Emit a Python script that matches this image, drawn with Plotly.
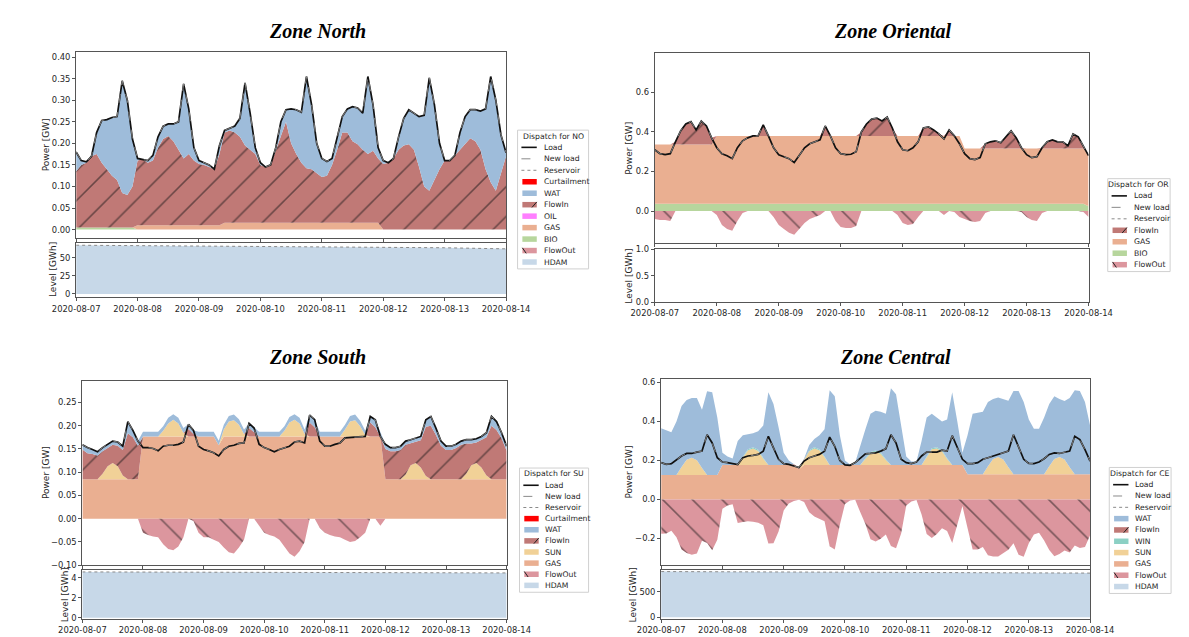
import pandas as pd
import plotly.graph_objects as go

W, H = 1189, 637
T = pd.date_range("2020-08-07", periods=85, freq="2h")   # 2-hourly grid
TD = pd.date_range("2020-08-07", periods=8, freq="D")    # daily grid for storage level

# ---------------- Zone North (NO) ----------------
NO_LOAD = [0.180,0.160,0.157,0.170,0.225,0.253,0.255,0.260,0.262,0.345,0.300,0.210,
           0.165,0.163,0.160,0.172,0.215,0.240,0.245,0.245,0.250,0.338,0.280,0.190,
           0.160,0.155,0.150,0.140,0.195,0.230,0.235,0.240,0.258,0.340,0.270,0.190,
           0.155,0.145,0.150,0.190,0.250,0.278,0.280,0.278,0.272,0.355,0.290,0.200,
           0.165,0.158,0.165,0.215,0.262,0.280,0.285,0.282,0.270,0.355,0.290,0.190,
           0.160,0.155,0.165,0.215,0.258,0.278,0.270,0.262,0.265,0.352,0.290,0.200,
           0.160,0.160,0.172,0.225,0.262,0.278,0.278,0.275,0.280,0.355,0.300,0.220,
           0.178]
NO_BIO = [0.005]*12 + [0.0]*73
NO_GAS = [0.0]*12 + [0.010]*17 + [0.016]*31 + [0.0]*25
NO_OIL = [0.0]*85
NO_FLOWIN = [0.130,0.145,0.150,0.165,0.170,0.150,0.135,0.120,0.110,0.080,0.075,0.095,
             0.150,0.153,0.145,0.150,0.180,0.200,0.207,0.195,0.175,0.155,0.165,0.150,
             0.142,0.140,0.135,0.130,0.165,0.209,0.214,0.209,0.199,0.179,0.169,0.159,
             0.134,0.129,0.134,0.169,0.204,0.234,0.184,0.159,0.139,0.126,0.124,0.114,
             0.106,0.109,0.134,0.169,0.209,0.209,0.189,0.182,0.169,0.159,0.167,0.149,
             0.152,0.155,0.165,0.185,0.195,0.198,0.185,0.145,0.100,0.090,0.114,0.140,
             0.160,0.160,0.172,0.185,0.200,0.212,0.205,0.185,0.140,0.110,0.090,0.130,
             0.170]
NO_WAT = [0.045,0.010,0.002,0.000,0.050,0.098,0.115,0.135,0.147,0.260,0.220,0.110,
          0.005,0.000,0.005,0.012,0.025,0.030,0.028,0.040,0.065,0.173,0.105,0.030,
          0.008,0.005,0.005,0.000,0.020,0.005,0.005,0.015,0.043,0.145,0.085,0.015,
          0.005,0.000,0.000,0.005,0.030,0.028,0.080,0.103,0.117,0.213,0.150,0.070,
          0.043,0.033,0.015,0.030,0.037,0.055,0.080,0.084,0.085,0.180,0.107,0.025,
          0.008,0.000,0.000,0.030,0.063,0.080,0.085,0.117,0.165,0.262,0.176,0.060,
          0.000,0.000,0.000,0.040,0.062,0.066,0.073,0.090,0.140,0.245,0.210,0.090,
          0.008]
NO_CURT = [0.0]*85
NO_LEVEL = [67.0, 66.5, 66.0, 66.0, 65.5, 65.0, 63.5, 62.0]

# ---------------- Zone Oriental (OR) ----------------
OR_LOAD = [0.310,0.290,0.285,0.290,0.350,0.405,0.440,0.452,0.410,0.455,0.430,0.370,
           0.320,0.290,0.280,0.265,0.320,0.355,0.370,0.380,0.380,0.435,0.380,0.320,
           0.285,0.275,0.265,0.245,0.280,0.320,0.340,0.350,0.360,0.430,0.380,0.320,
           0.290,0.285,0.287,0.300,0.400,0.440,0.465,0.470,0.455,0.475,0.420,0.350,
           0.310,0.305,0.320,0.350,0.420,0.425,0.410,0.390,0.365,0.410,0.380,0.340,
           0.290,0.265,0.260,0.270,0.340,0.350,0.355,0.345,0.375,0.405,0.370,0.320,
           0.285,0.270,0.275,0.320,0.350,0.360,0.350,0.350,0.330,0.390,0.375,0.330,
           0.280]
OR_BIO = [0.037]*84 + [0.025]
OR_GAS = [0.299]*12 + [0.343]*48 + [0.279]*24 + [0.260]
OR_FLOWIN = [0,0,0,0,0.014,0.069,0.104,0.116,0.074,0.119,0.094,0.034,
             0,0,0,0,0,0,0,0,0,0.055,0,0,
             0,0,0,0,0,0,0,0,0,0.050,0,0,
             0,0,0,0,0.020,0.060,0.085,0.090,0.075,0.095,0.040,0,
             0,0,0,0,0.040,0.045,0.030,0.010,0,0.030,0,0,
             0,0,0,0,0.024,0.034,0.039,0.029,0.059,0.089,0.054,0.004,
             0,0,0,0.004,0.034,0.044,0.034,0.034,0.014,0.074,0.059,0.014,
             0]
OR_FLOWOUT = [-0.040,-0.045,-0.045,-0.050,0,0,0,0,0,0,0,0,
              -0.020,-0.070,-0.090,-0.100,-0.050,-0.010,0,0,0,0,0,-0.030,
              -0.070,-0.090,-0.110,-0.120,-0.090,-0.060,-0.040,-0.030,-0.020,0,0,-0.050,
              -0.080,-0.085,-0.085,-0.075,0,0,0,0,0,0,0,-0.020,
              -0.060,-0.070,-0.065,-0.030,0,0,0,0,-0.020,0,-0.005,-0.030,
              -0.040,-0.050,-0.055,-0.050,-0.010,0,0,0,0,0,0,-0.005,
              -0.030,-0.045,-0.050,-0.010,0,0,0,0,0,0,0,-0.005,
              -0.030]
OR_LEVEL = [None]*8   # no storage in this zone: empty level panel

# ---------------- Zone South (SU) ----------------
SU_LOAD = [0.159,0.153,0.149,0.144,0.153,0.160,0.167,0.165,0.156,0.209,0.190,0.167,
           0.153,0.153,0.151,0.146,0.156,0.158,0.158,0.160,0.165,0.203,0.190,0.156,
           0.149,0.146,0.142,0.135,0.149,0.156,0.158,0.162,0.163,0.205,0.195,0.160,
           0.153,0.149,0.144,0.149,0.153,0.156,0.165,0.167,0.163,0.223,0.213,0.167,
           0.156,0.156,0.160,0.163,0.174,0.175,0.176,0.177,0.177,0.220,0.213,0.177,
           0.160,0.153,0.153,0.156,0.167,0.170,0.174,0.177,0.213,0.220,0.195,0.167,
           0.156,0.156,0.160,0.167,0.170,0.170,0.172,0.177,0.185,0.220,0.209,0.185,
           0.156]
SU_GAS = ([0.085]*12 + [0.177]*12 + [0.177,0.177,0.177,0.158] + [0.177]*8
          + [0.177]*24 + [0.085]*25)
SU_SUN = [0,0,0,0,0.012,0.028,0.035,0.028,0.008,0,0,0,
          0,0,0,0,0.012,0.028,0.036,0.028,0.008,0,0,0,
          0,0,0,0,0.015,0.032,0.035,0.025,0.005,0,0,0,
          0,0,0,0,0.012,0.030,0.036,0.028,0.005,0,0,0,
          0,0,0,0,0.015,0.032,0.035,0.022,0.003,0,0,0,
          0,0,0,0,0.010,0.030,0.035,0.025,0.007,0,0,0,
          0,0,0,0,0.012,0.030,0.035,0.025,0.008,0,0,0,
          0]
SU_FLOWIN = [0.064,0.056,0.054,0.051,0.048,0.039,0.039,0.044,0.055,0.099,0.090,0.072,
             0,0,0,0,0,0,0,0,0,0.016,0.005,0,
             0,0,0,0,0,0,0,0,0,0.018,0.008,0,
             0,0,0,0,0,0,0,0,0,0.030,0.020,0,
             0,0,0,0,0,0,0,0,0,0.030,0.020,0,
             0.065,0.060,0.060,0.063,0.064,0.047,0.046,0.059,0.106,0.115,0.095,0.072,
             0.063,0.063,0.067,0.074,0.065,0.047,0.044,0.059,0.082,0.115,0.106,0.088,
             0.061]
SU_WAT = [0.010,0.012,0.010,0.008,0.008,0.008,0.008,0.008,0.008,0.025,0.015,0.010,
          0.010,0.010,0.010,0.010,0.010,0.012,0.012,0.012,0.010,0.010,0.008,0.010,
          0.010,0.010,0.010,0.010,0.010,0.012,0.012,0.012,0.010,0.010,0.010,0.010,
          0.010,0.010,0.010,0.010,0.010,0.012,0.012,0.012,0.010,0.016,0.016,0.010,
          0.010,0.010,0.010,0.010,0.010,0.012,0.012,0.012,0.010,0.013,0.016,0.010,
          0.010,0.008,0.008,0.008,0.008,0.008,0.008,0.008,0.015,0.020,0.015,0.010,
          0.008,0.008,0.008,0.008,0.008,0.008,0.008,0.008,0.010,0.020,0.018,0.012,
          0.010]
SU_CURT = [0.0]*85
SU_FLOWOUT = [0]*12 + [
    -0.030,-0.035,-0.038,-0.040,-0.055,-0.065,-0.068,-0.060,-0.040,0,-0.005,-0.030,
    -0.040,-0.040,-0.045,-0.050,-0.062,-0.072,-0.075,-0.062,-0.045,0,0,-0.015,
    -0.030,-0.035,-0.038,-0.045,-0.060,-0.075,-0.082,-0.070,-0.050,0,0,-0.020,
    -0.030,-0.035,-0.038,-0.040,-0.045,-0.050,-0.048,-0.040,-0.030,0,0,-0.015] + [0]*25
SU_LEVEL = [4.57, 4.56, 4.55, 4.54, 4.53, 4.51, 4.49, 4.47]

# ---------------- Zone Central (CE) ----------------
CE_LOAD = [0.189,0.180,0.184,0.206,0.223,0.236,0.236,0.243,0.248,0.332,0.290,0.214,
           0.192,0.189,0.185,0.179,0.214,0.223,0.226,0.231,0.248,0.324,0.265,0.206,
           0.184,0.180,0.172,0.164,0.197,0.214,0.223,0.231,0.248,0.320,0.273,0.200,
           0.177,0.175,0.189,0.214,0.234,0.236,0.239,0.248,0.260,0.332,0.290,0.206,
           0.189,0.184,0.192,0.223,0.243,0.243,0.243,0.253,0.248,0.327,0.265,0.206,
           0.184,0.184,0.189,0.206,0.214,0.223,0.231,0.239,0.248,0.332,0.273,0.206,
           0.185,0.184,0.192,0.209,0.231,0.239,0.236,0.243,0.248,0.324,0.307,0.256,
           0.197]
CE_GAS = ([0.126]*12 + [0.177]*12 + [0.177,0.177,0.177,0.155] + [0.177]*8
          + [0.177]*24 + [0.130]*25)
CE_SUN = [0,0,0,0,0.040,0.078,0.088,0.075,0.035,0,0,0,
          0,0,0,0,0.038,0.075,0.085,0.072,0.032,0,0,0,
          0,0,0,0,0.025,0.070,0.085,0.075,0.040,0,0,0,
          0,0,0,0,0.030,0.060,0.068,0.058,0.025,0,0,0,
          0,0,0,0,0.040,0.080,0.085,0.070,0.030,0,0,0,
          0,0,0,0,0.040,0.078,0.088,0.075,0.035,0,0,0,
          0,0,0,0,0.040,0.078,0.088,0.075,0.035,0,0,0,
          0]
CE_WIN = ([0]*12 + [0,0,0,0,0.004,0.006,0.006,0.006,0.004,0,0,0]*4 + [0]*25)
CE_FLOWIN = [0]*24 + [0,0,0.004,0.008] + [0]*57
CE_WAT = [0.239,0.229,0.219,0.274,0.314,0.306,0.306,0.319,0.299,0.429,0.424,0.294,
          0.063,0.043,0.033,0.123,0.111,0.077,0.072,0.095,0.167,0.373,0.313,0.193,
          0.063,0.023,0.000,0.000,0.004,0.027,0.042,0.072,0.139,0.383,0.353,0.153,
          0.023,0.003,0.013,0.103,0.149,0.197,0.204,0.209,0.234,0.393,0.363,0.203,
          0.043,0.018,0.018,0.123,0.199,0.177,0.152,0.147,0.199,0.373,0.223,0.063,
          0.200,0.310,0.315,0.320,0.330,0.307,0.305,0.310,0.341,0.426,0.426,0.370,
          0.280,0.233,0.233,0.290,0.320,0.322,0.297,0.300,0.355,0.430,0.426,0.370,
          0.250]
CE_FLOWOUT = [-0.176,-0.175,-0.161,-0.194,-0.257,-0.274,-0.284,-0.277,-0.212,-0.223,-0.260,-0.206,
              -0.048,-0.031,-0.025,-0.121,-0.116,-0.112,-0.114,-0.119,-0.132,-0.226,-0.225,-0.164,
              -0.056,-0.020,-0.008,-0.002,-0.013,-0.066,-0.087,-0.099,-0.112,-0.240,-0.257,-0.130,
              -0.023,-0.005,-0.001,-0.066,-0.126,-0.204,-0.216,-0.202,-0.180,-0.238,-0.250,-0.174,
              -0.031,-0.011,-0.003,-0.077,-0.177,-0.197,-0.177,-0.147,-0.162,-0.223,-0.135,-0.034,
              -0.146,-0.256,-0.256,-0.244,-0.286,-0.292,-0.292,-0.276,-0.258,-0.224,-0.283,-0.294,
              -0.225,-0.179,-0.171,-0.211,-0.259,-0.291,-0.279,-0.262,-0.272,-0.236,-0.249,-0.244,
              -0.183]
CE_LEVEL = [890, 887, 884, 881, 877, 873, 868, 860]

for _name, _arr in list(globals().items()):
    if _name.isupper() and isinstance(_arr, list) and _name.split("_")[-1] != "LEVEL":
        assert len(_arr) == 85, (_name, len(_arr))

# ---------------- styles ----------------
C = dict(WAT="#9ebcda", FlowIn="#c07976", FlowOut="#dc969e", GAS="#eaaf91",
         BIO="#b7d69d", SUN="#f1d197", WIN="#8cd0c4", HDAM="#c7d8e8",
         OIL="#ff7fff", Curtailment="#ff0000")
FONT = "DejaVu Sans"
TXT = "#262626"
FRAME = "#555555"

fig = go.Figure()


def area(y, name, xa, ya, group=None, pattern=None, x=T):
    col = C[name]
    kw = dict(x=x, y=y, name=name, mode="lines", line=dict(width=0, color=col),
              fillcolor=col, xaxis=xa, yaxis=ya, showlegend=False, hoverinfo="skip")
    if group:
        kw["stackgroup"] = group
    else:
        kw["fill"] = "tozeroy"
    if pattern:
        kw["fillpattern"] = dict(shape=pattern, fgcolor="#141414",
                                 bgcolor=col, size=21, solidity=0.075)
    fig.add_trace(go.Scatter(**kw))


def loads(y, xa, ya):
    fig.add_trace(go.Scatter(x=T, y=y, mode="lines", line=dict(color="#111", width=1.7),
                             xaxis=xa, yaxis=ya, showlegend=False, name="Load"))
    fig.add_trace(go.Scatter(x=T, y=y, mode="lines",
                             line=dict(color="#8a8a8a", width=0.9, dash="dash"),
                             xaxis=xa, yaxis=ya, showlegend=False, name="New load"))


def level(y, xa, ya):
    area(y, "HDAM", xa, ya, x=TD)
    fig.add_trace(go.Scatter(x=TD, y=y, mode="lines",
                             line=dict(color="#8a8a8a", width=1, dash="dot"),
                             xaxis=xa, yaxis=ya, showlegend=False, name="Reservoir"))


# NO
area(NO_BIO, "BIO", "x", "y", "no")
area(NO_GAS, "GAS", "x", "y", "no")
area(NO_OIL, "OIL", "x", "y", "no")
area(NO_FLOWIN, "FlowIn", "x", "y", "no", "/")
area(NO_WAT, "WAT", "x", "y", "no")
area(NO_CURT, "Curtailment", "x", "y", "no")
loads(NO_LOAD, "x", "y")
level(NO_LEVEL, "x2", "y2")

# OR
area(OR_BIO, "BIO", "x3", "y3", "or")
area(OR_GAS, "GAS", "x3", "y3", "or")
area(OR_FLOWIN, "FlowIn", "x3", "y3", "or", "/")
area(OR_FLOWOUT, "FlowOut", "x3", "y3", None, "\\")
loads(OR_LOAD, "x3", "y3")
fig.add_trace(go.Scatter(x=TD, y=OR_LEVEL, mode="lines", line=dict(width=0),
                         xaxis="x4", yaxis="y4", showlegend=False, name="Reservoir"))

# SU
area(SU_GAS, "GAS", "x5", "y5", "su")
area(SU_SUN, "SUN", "x5", "y5", "su")
area(SU_FLOWIN, "FlowIn", "x5", "y5", "su", "/")
area(SU_WAT, "WAT", "x5", "y5", "su")
area(SU_CURT, "Curtailment", "x5", "y5", "su")
area(SU_FLOWOUT, "FlowOut", "x5", "y5", None, "\\")
loads(SU_LOAD, "x5", "y5")
level(SU_LEVEL, "x6", "y6")

# CE
area(CE_GAS, "GAS", "x7", "y7", "ce")
area(CE_SUN, "SUN", "x7", "y7", "ce")
area(CE_WIN, "WIN", "x7", "y7", "ce")
area(CE_FLOWIN, "FlowIn", "x7", "y7", "ce", "/")
area(CE_WAT, "WAT", "x7", "y7", "ce")
area(CE_FLOWOUT, "FlowOut", "x7", "y7", None, "\\")
loads(CE_LOAD, "x7", "y7")
level(CE_LEVEL, "x8", "y8")

# ---------------- axes ----------------
def fx(p):
    return p / W


def fy(p):
    return 1 - p / H


TICKF = dict(family=FONT, size=8.4, color=TXT)


def xax(x0, x1, anchor, labels):
    return dict(domain=[fx(x0), fx(x1)], anchor=anchor, type="date",
                range=["2020-08-07", "2020-08-14"], showline=True, linecolor=FRAME,
                linewidth=1, mirror=True, ticks="outside", ticklen=3, tickcolor=FRAME,
                tick0="2020-08-07", dtick=86400000, tickformat="%Y-%m-%d",
                showticklabels=labels, showgrid=False, zeroline=False, tickfont=TICKF)


def yax(top, bot, anchor, rng, vals, fmt):
    return dict(domain=[fy(bot), fy(top)], anchor=anchor, range=rng, showline=True,
                linecolor=FRAME, linewidth=1, mirror=True, ticks="outside", ticklen=3,
                tickcolor=FRAME, tickvals=vals, tickformat=fmt, showgrid=False,
                zeroline=False, tickfont=TICKF)


layout = dict(
    width=W, height=H, margin=dict(l=0, r=0, t=0, b=0),
    plot_bgcolor="white", paper_bgcolor="white", showlegend=False,
    xaxis=xax(46, 494, "y", False),
    yaxis=yax(40, 229, "x", [-0.0205, 0.411], [0, .05, .1, .15, .2, .25, .3, .35, .4], ".2f"),
    xaxis2=xax(46, 494, "y2", True),
    yaxis2=yax(234, 289, "x2", [-4.8, 69.6], [0, 25, 50], "d"),
    xaxis3=xax(649, 1101, "y3", False),
    yaxis3=yax(41, 234, "x3", [-0.163, 0.797], [0, .2, .4, .6], ".1f"),
    xaxis4=xax(649, 1101, "y4", True),
    yaxis4=yax(240, 294, "x4", [0, 1], [0, .5, 1], ".1f"),
    xaxis5=xax(52.5, 494.6, "y5", False),
    yaxis5=yax(374, 561, "x5", [-0.1, 0.296], [-.1, -.05, 0, .05, .1, .15, .2, .25], ".2f"),
    xaxis6=xax(52.5, 494.6, "y6", True),
    yaxis6=yax(566, 616, "x6", [-0.15, 4.75], [0, 2, 4], "d"),
    xaxis7=xax(655.6, 1102.6, "y7", False),
    yaxis7=yax(372, 561, "x7", [-0.337, 0.617], [-.2, 0, .2, .4, .6], ".1f"),
    xaxis8=xax(655.6, 1102.6, "y8", True),
    yaxis8=yax(566, 616, "x8", [-41, 918], [0, 500], "d"),
)

ann = []
shapes = []


def text(x, y, s, size=8, angle=0, anchor="center", family=FONT, color=TXT):
    ann.append(dict(x=fx(x), y=fy(y), xref="paper", yref="paper", text=s, showarrow=False,
                    xanchor=anchor, yanchor="middle", textangle=angle,
                    font=dict(family=family, size=size, color=color)))


# titles
TF = "Liberation Serif"
text(297, 18, "<b><i>Zone North</i></b>", 20, family=TF, color="#000")
text(897, 18, "<b><i>Zone Oriental</i></b>", 20, family=TF, color="#000")
text(297, 349, "<b><i>Zone South</i></b>", 20, family=TF, color="#000")
text(900, 349, "<b><i>Zone Central</i></b>", 20, family=TF, color="#000")

# axis titles
text(14, 134, "Power [GW]", 9, -90)
text(22, 261, "Level [GWh]", 9, -90)
text(622, 137, "Power [GW]", 9, -90)
text(622, 267, "Level [GWh]", 9, -90)
text(14, 467, "Power [GW]", 9, -90)
text(34, 591, "Level [GWh]", 9, -90)
text(622, 466, "Power [GW]", 9, -90)
text(626, 591, "Level [GWh]", 9, -90)


def legend(L, R, top, title, entries, dy):
    bot = top + 17.5 + dy * (len(entries) - 1) + 7
    shapes.append(dict(type="rect", xref="paper", yref="paper", x0=fx(L), x1=fx(R),
                       y0=fy(bot), y1=fy(top), line=dict(color="#d0d0d0", width=1),
                       fillcolor="rgba(255,255,255,0.85)", layer="above"))
    text((L + R) / 2, top + 6, title, 7.7)
    for i, (name, kind) in enumerate(entries):
        y = top + 17.5 + dy * i
        if kind in ("solid", "dash", "dot"):
            col = "#111" if kind == "solid" else "#8a8a8a"
            w = 1.6 if kind == "solid" else 1
            shapes.append(dict(type="line", xref="paper", yref="paper", x0=fx(L + 4),
                               x1=fx(L + 20), y0=fy(y), y1=fy(y), layer="above",
                               line=dict(color=col, width=w, dash=kind)))
        else:
            shapes.append(dict(type="rect", xref="paper", yref="paper", x0=fx(L + 5),
                               x1=fx(L + 20), y0=fy(y + 2.8), y1=fy(y - 2.8),
                               fillcolor=C[name], line=dict(width=0), layer="above"))
            if kind == "/":
                shapes.append(dict(type="line", xref="paper", yref="paper", x0=fx(L + 15),
                                   x1=fx(L + 20), y0=fy(y + 2.8), y1=fy(y - 2.8),
                                   line=dict(color="#222", width=1), layer="above"))
            elif kind == "\\":
                shapes.append(dict(type="line", xref="paper", yref="paper", x0=fx(L + 5),
                                   x1=fx(L + 9), y0=fy(y - 2.8), y1=fy(y + 2.8),
                                   line=dict(color="#222", width=1), layer="above"))
        text(L + 25, y, name, 7.7, anchor="left")


legend(506, 580, 119, "Dispatch for NO",
       [("Load", "solid"), ("New load", "dash"), ("Reservoir", "dot"),
        ("Curtailment", "p"), ("WAT", "p"), ("FlowIn", "/"), ("OIL", "p"),
        ("GAS", "p"), ("BIO", "p"), ("FlowOut", "\\"), ("HDAM", "p")], 11.65)
legend(1121, 1186, 168.3, "Dispatch for OR",
       [("Load", "solid"), ("New load", "dash"), ("Reservoir", "dot"),
        ("FlowIn", "/"), ("GAS", "p"), ("BIO", "p"), ("FlowOut", "\\")], 11.65)
legend(508, 580, 462.3, "Dispatch for SU",
       [("Load", "solid"), ("New load", "dash"), ("Reservoir", "dot"),
        ("Curtailment", "p"), ("WAT", "p"), ("FlowIn", "/"), ("SUN", "p"),
        ("GAS", "p"), ("FlowOut", "\\"), ("HDAM", "p")], 11.3)
legend(1122.6, 1187, 461.7, "Dispatch for CE",
       [("Load", "solid"), ("New load", "dash"), ("Reservoir", "dot"),
        ("WAT", "p"), ("FlowIn", "/"), ("WIN", "p"), ("SUN", "p"),
        ("GAS", "p"), ("FlowOut", "\\"), ("HDAM", "p")], 11.5)

layout["annotations"] = ann
layout["shapes"] = shapes
fig.update_layout(**layout)
fig.write_html("out.html")
